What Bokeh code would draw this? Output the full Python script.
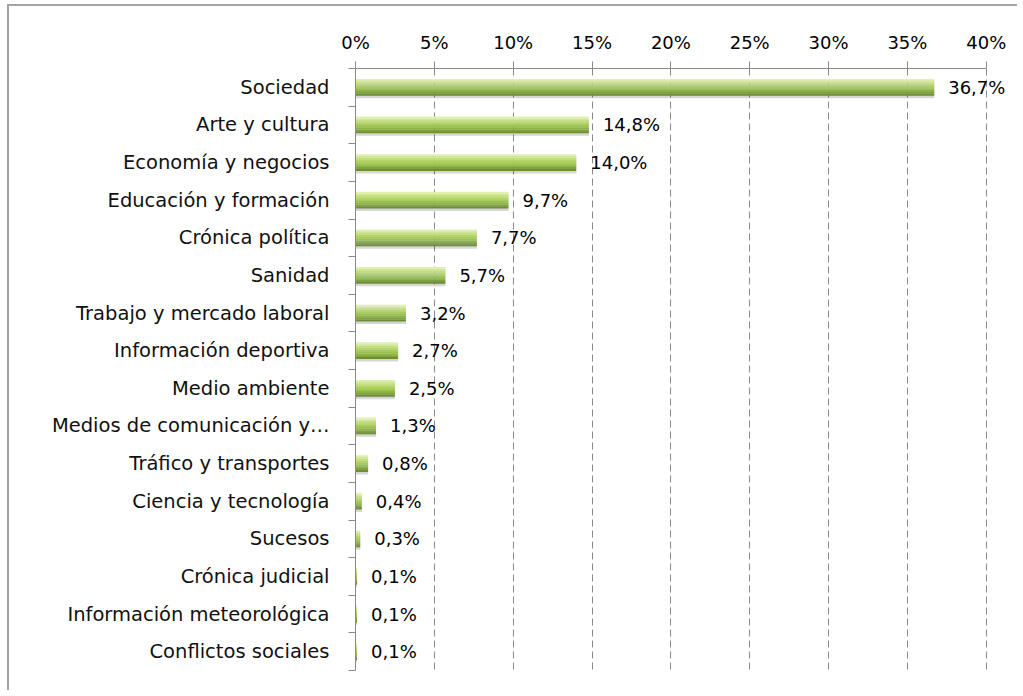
from bokeh.plotting import figure
from bokeh.models import (ColumnDataSource, Range1d, LinearAxis, FixedTicker,
                          PrintfTickFormatter, LabelSet)
from bokeh.core.properties import value
from bokeh.transform import dodge
from bokeh.embed import file_html
from bokeh.resources import INLINE

categories = [
    "Sociedad", "Arte y cultura", "Economía y negocios", "Educación y formación",
    "Crónica política", "Sanidad", "Trabajo y mercado laboral",
    "Información deportiva", "Medio ambiente", "Medios de comunicación y…",
    "Tráfico y transportes", "Ciencia y tecnología", "Sucesos",
    "Crónica judicial", "Información meteorológica", "Conflictos sociales",
]
values = [36.7, 14.8, 14.0, 9.7, 7.7, 5.7, 3.2, 2.7, 2.5, 1.3, 0.8, 0.4, 0.3, 0.1, 0.1, 0.1]
x_ticks = [0, 5, 10, 15, 20, 25, 30, 35, 40]

n = len(categories)
pos = list(range(n))
labels = [f"{v:.1f}".replace(".", ",") + "%" for v in values]
src = ColumnDataSource(dict(pos=pos, val=values, lab=labels, cat=categories))

W, H = 1010, 686
OX, OY = 9, 6  # page offset of the figure content (margin + border)
X0, X40 = 355, 986  # page x of 0% and 40%
X_END = 41.6        # extra room on the right so the value labels are not clipped
x_right = X0 + (X40 - X0) * X_END / 40
p = figure(width=W, height=H, output_backend="svg", toolbar_location=None,
           x_range=Range1d(0, X_END), y_range=Range1d(n - 0.5, -0.5),
           x_axis_location="above", y_axis_location=None,
           min_border_left=X0 - OX, min_border_top=68 - OY,
           min_border_right=int(round(W - (x_right - OX))),
           min_border_bottom=H - (670 - OY))
p.outline_line_color = None
p.background_fill_color = "white"
p.border_fill_color = "white"

GRAY = "#8a8a8a"
# top axis
xa = p.xaxis[0]
xa.ticker = FixedTicker(ticks=x_ticks, minor_ticks=[])
xa.formatter = PrintfTickFormatter(format="%d%%")
xa.bounds = (x_ticks[0], x_ticks[-1])
xa.axis_line_color = GRAY
xa.major_tick_line_color = GRAY
xa.major_tick_out = 7
xa.major_tick_in = 0
xa.minor_tick_line_color = None
xa.major_label_text_font = "DejaVu Sans"
xa.major_label_text_font_size = "18px"
xa.major_label_text_color = "#000000"
xa.major_label_standoff = 9

# left category axis (numeric positions, ticks at boundaries)
ya = LinearAxis(
    ticker=FixedTicker(ticks=pos, minor_ticks=[i + 0.5 for i in range(-1, n)]),
    major_label_overrides={i: c for i, c in zip(pos, categories)},
)
ya.axis_line_color = GRAY
ya.major_tick_line_color = None
ya.major_tick_out = 0
ya.major_tick_in = 0
ya.minor_tick_line_color = GRAY
ya.minor_tick_out = 7
ya.minor_tick_in = 0
ya.major_label_text_font = "DejaVu Sans"
ya.major_label_text_font_size = "19.5px"
ya.major_label_text_color = "#111111"
ya.major_label_standoff = 19
p.add_layout(ya, "left")

p.xgrid.grid_line_color = GRAY
p.xgrid.grid_line_dash = "7 4"
p.xgrid.grid_line_width = 1
p.ygrid.grid_line_color = None

# bars: shadow + vertical gradient made of stripes
h = 0.44
p.hbar(y=dodge("pos", 0.07, range=p.y_range), left=0, right="val", height=h,
       source=src, fill_color="#000000", fill_alpha=0.16, line_color=None)
grad = ["#e0efb2", "#d0e795", "#c2de7e", "#b4d56c", "#a7cb5f", "#9ac054",
        "#8db34a", "#7fa241", "#6d8d36"]
k = len(grad)
for i, c in enumerate(grad):
    off = -h / 2 + (i + 0.5) * h / k
    p.hbar(y=dodge("pos", off, range=p.y_range), left=0, right="val",
           height=h / k * 1.04, source=src, fill_color=c, line_color=None)

p.add_layout(LabelSet(x="val", y="pos", text="lab", source=src, x_offset=14,
                      text_align="left", text_baseline="middle",
                      text_font=value("DejaVu Sans"), text_font_size="18px",
                      text_color="#000000"))

p.styles = {"border-left": "2px solid #a3a3a3", "border-top": "2px solid #a3a3a3",
            "margin-left": "7px", "margin-top": "4px"}

open("out.html", "w").write(file_html(p, INLINE))
